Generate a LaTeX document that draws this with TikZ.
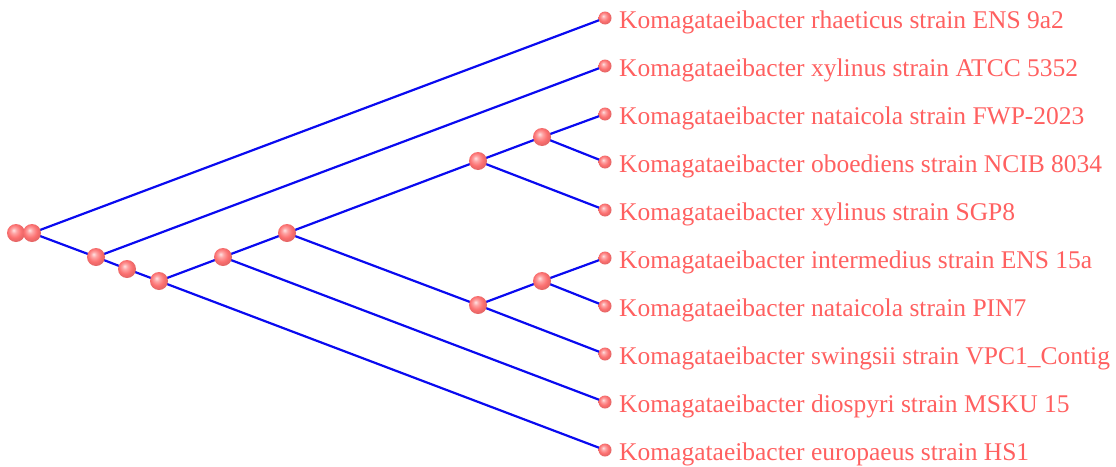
\documentclass[tikz,border=0pt]{standalone}
\usepackage{fontspec}
\setmainfont{Liberation Serif}
\definecolor{edgeblue}{RGB}{10,10,240}
\definecolor{labelred}{RGB}{255,96,96}
\definecolor{ballred}{RGB}{252,112,112}
% soft pink sphere with an upper-left highlight
\pgfdeclareradialshading{pinkball}{\pgfqpoint{-7bp}{8bp}}{%
  color(0bp)=(white!80!ballred);
  color(8bp)=(white!35!ballred);
  color(18bp)=(ballred);
  color(25bp)=(ballred!92!black);
  color(50bp)=(ballred!80!black)}
\tikzset{
  inner/.style={circle,minimum size=18pt,inner sep=0pt,shading=pinkball},
  leaf/.style={circle,minimum size=13pt,inner sep=0pt,shading=pinkball},
  lbl/.style={anchor=base west,text=labelred,font=\fontsize{25.5}{28}\selectfont,inner sep=0pt},
  branch/.style={draw=edgeblue,line width=2.2pt}
}
\begin{document}
\begin{tikzpicture}[x=1pt,y=-1pt]
\useasboundingbox (0,0) rectangle (1116,466);
% internal nodes
\coordinate (r0) at (16,233);
\coordinate (r) at (32,233);
\coordinate (n1) at (96,257);
\coordinate (n2) at (127,269);
\coordinate (n3) at (159,281);
\coordinate (n4) at (223,257);
\coordinate (n5) at (287,233);
\coordinate (n6) at (478,161);
\coordinate (n7) at (478,305);
\coordinate (n8) at (542,137);
\coordinate (n9) at (542,281);
% leaves
\coordinate (l1) at (605,18);
\coordinate (l2) at (605,66);
\coordinate (l3) at (605,114);
\coordinate (l4) at (605,162);
\coordinate (l5) at (605,210);
\coordinate (l6) at (605,258);
\coordinate (l7) at (605,306);
\coordinate (l8) at (605,354);
\coordinate (l9) at (605,402);
\coordinate (l10) at (605,450);
% branches
\draw[branch] (r) -- (l1);
\draw[branch] (r) -- (n1) -- (n2) -- (n3) -- (l10);
\draw[branch] (n1) -- (l2);
\draw[branch] (n3) -- (n4) -- (l9);
\draw[branch] (n4) -- (n5);
\draw[branch] (n5) -- (n6) -- (l5);
\draw[branch] (n6) -- (n8) -- (l3);
\draw[branch] (n8) -- (l4);
\draw[branch] (n5) -- (n7) -- (l8);
\draw[branch] (n7) -- (n9) -- (l6);
\draw[branch] (n9) -- (l7);
% node balls
\foreach \n in {r0,r,n1,n2,n3,n4,n5,n6,n7,n8,n9}
  \node[inner] (b\n) at (\n) {};
\foreach \n/\t in {l1/Komagataeibacter rhaeticus strain ENS 9a2,
                   l2/Komagataeibacter xylinus strain ATCC 5352,
                   l3/Komagataeibacter nataicola strain FWP-2023,
                   l4/Komagataeibacter oboediens strain NCIB 8034,
                   l5/Komagataeibacter xylinus strain SGP8,
                   l6/Komagataeibacter intermedius strain ENS 15a,
                   l7/Komagataeibacter nataicola strain PIN7,
                   l8/Komagataeibacter swingsii strain VPC1\_Contig,
                   l9/Komagataeibacter diospyri strain MSKU 15,
                   l10/Komagataeibacter europaeus strain HS1}{
  \node[leaf] (b\n) at (\n) {};
  \node[lbl] (t\n) at ([xshift=14pt,yshift=-10pt]\n) {\t};
}
\end{tikzpicture}
\end{document}
